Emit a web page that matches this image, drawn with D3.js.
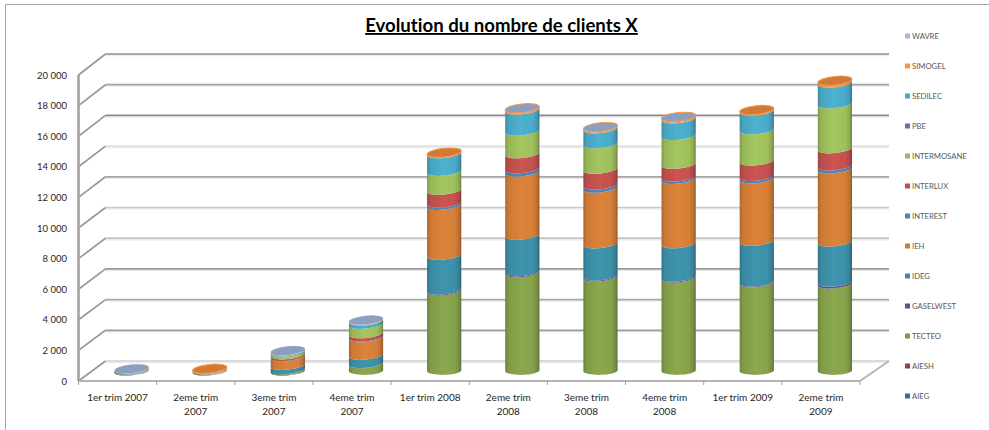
<!DOCTYPE html>
<html><head><meta charset="utf-8">
<script src="https://cdn.jsdelivr.net/npm/d3@7/dist/d3.min.js"></script>
<style>html,body{margin:0;padding:0;background:#fff}svg{display:block}text{font-family:Lato,"Open Sans",sans-serif;font-variant-ligatures:none}</style>
</head><body><svg id="c" width="989" height="430"></svg>
<script>
const categories = ["1er trim 2007","2eme trim 2007","3eme trim 2007","4eme trim 2007","1er trim 2008","2eme trim 2008","3eme trim 2008","4eme trim 2008","1er trim 2009","2eme trim 2009"];
const categoryLines = [["1er trim 2007"],["2eme trim","2007"],["3eme trim","2007"],["4eme trim","2007"],["1er trim 2008"],["2eme trim","2008"],["3eme trim","2008"],["4eme trim","2008"],["1er trim 2009"],["2eme trim","2009"]];
const seriesNames = ["AIEG","AIESH","TECTEO","GASELWEST","IDEG","IEH","INTEREST","INTERLUX","INTERMOSANE","PBE","SEDILEC","SIMOGEL","WAVRE"];
const seriesColors = ["#3f6aa3","#a03d3a","#86a34c","#6a4d8c","#3d90a9","#d67f38","#4f81bd","#c4524f","#9fc05c","#8064a2","#4bacc9","#f79646","#8d9fc0"];
const legendColors = ["#3f6aa3","#a03d3a","#7f9a48","#6a4d8c","#3a8ca5","#d07a35","#4f81bd","#c0504d","#9bbb59","#8064a2","#4bacc6","#f79646","#aabad7"];
const AIEG       = [0,0,5,0,0,0,0,0,0,0];
const AIESH      = [0,0,5,0,0,0,0,0,0,0];
const TECTEO     = [5,5,70,476,5220,6414,6134,6068,5762,5677];
const GASELWEST  = [0,0,10,20,60,60,60,60,50,120];
const IDEG       = [15,15,280,530,2270,2380,2110,2178,2650,2620];
const IEH        = [20,20,540,1150,3260,4130,3630,4200,4085,4780];
const INTEREST   = [0,0,30,40,150,215,200,150,155,176];
const INTERLUX   = [5,5,120,220,830,980,1040,830,1000,1130];
const INTERMOSANE= [10,10,180,613,1240,1480,1650,1890,2045,2935];
const PBE        = [0,0,0,0,0,0,0,0,0,0];
const SEDILEC    = [30,30,60,215,1150,1370,980,1080,1200,1350];
const SIMOGEL    = [5,65,15,40,70,80,70,70,85,150];
const WAVRE      = [50,0,15,26,0,40,40,60,0,0];
const seriesValues = [AIEG,AIESH,TECTEO,GASELWEST,IDEG,IEH,INTEREST,INTERLUX,INTERMOSANE,PBE,SEDILEC,SIMOGEL,WAVRE];
const yTicks = [0,2000,4000,6000,8000,10000,12000,14000,16000,18000,20000];
const gridColors = ["#cfcfcf","#9c9c9c","#a8a8a8","#9a9a9a","#c6c6c6","#c9c9c9","#a6a6a6","#e2e2e2","#8a8a8a","#a2a2a2","#8e8e8e"];
const titleText = "Evolution du nombre de clients X";

const svg = d3.select("#c");
const defs = svg.append("defs");
defs.append("filter").attr("id","soft").attr("x","-5%").attr("y","-5%").attr("width","110%").attr("height","110%")
  .append("feGaussianBlur").attr("stdDeviation",0.45);

const x = d3.scaleBand().domain(categories).range([78.5,860]);
const depthX = 27, centerShift = 14;
const yFront = d3.scaleLinear().domain([0,20000]).range([381,75]);
const yBack  = d3.scaleLinear().domain([0,20000]).range([361,54]);
const yMid   = d3.scaleLinear().domain([0,20000]).range([371,64.5]);
const rx = 17.2, ry = 4.3, tilt = -6;
const dxT = rx*Math.cos(tilt*Math.PI/180), dyT = rx*Math.sin(tilt*Math.PI/180);

// frame
svg.append("path").attr("d","M5.5,430V4.5H989").attr("fill","none").attr("stroke","#a6a6a6");

const plot = svg.append("g").attr("filter","url(#soft)");
const backLeft = x.range()[0]+depthX, backRight = 889;

// gridlines on the back wall + side diagonals
yTicks.forEach((t,i)=>{
  const ys = yBack(t);
  plot.append("line").attr("x1",backLeft).attr("x2",backRight).attr("y1",ys+1.5).attr("y2",ys+1.5).attr("stroke","#ececec").attr("stroke-width",1.5);
  plot.append("line").attr("x1",backLeft).attr("x2",backRight).attr("y1",ys).attr("y2",ys).attr("stroke",gridColors[i]).attr("stroke-width",1.7);
  plot.append("line").attr("x1",x.range()[0]).attr("x2",backLeft).attr("y1",yFront(t)).attr("y2",ys).attr("stroke","#9a9a9a").attr("stroke-width",1.8);
});
// floor
plot.append("line").attr("x1",x.range()[0]).attr("x2",x.range()[1]).attr("y1",yFront(0)).attr("y2",yFront(0)).attr("stroke","#b4b4b4").attr("stroke-width",1.8);
plot.append("line").attr("x1",x.range()[1]).attr("x2",backRight).attr("y1",yFront(0)).attr("y2",yBack(0)).attr("stroke","#b4b4b4").attr("stroke-width",1.8);
// y axis wall
plot.append("line").attr("x1",x.range()[0]).attr("x2",x.range()[0]).attr("y1",yFront(20000)).attr("y2",yFront(0)).attr("stroke","#a2a2a2").attr("stroke-width",2.6);
// x ticks
plot.selectAll(".xt").data(categories.concat(["end"])).enter().append("line")
  .attr("x1",(d,i)=>x.range()[0]+i*x.bandwidth()).attr("x2",(d,i)=>x.range()[0]+i*x.bandwidth())
  .attr("y1",yFront(0)).attr("y2",yFront(0)+4).attr("stroke","#a0a0a0");

// gradients
seriesColors.forEach((c,i)=>{
  const g = defs.append("linearGradient").attr("id","g"+i).attr("x1","0").attr("x2","1").attr("y1","0").attr("y2","0");
  const col = d3.color(c);
  [[0,0.8],[0.1,0.95],[0.45,1.03],[0.8,1],[0.93,0.88],[1,0.68]].forEach(([o,k])=>{
    g.append("stop").attr("offset",o).attr("stop-color",d3.rgb(col.r*k,col.g*k,col.b*k).formatHex());
  });
});

// cylinders
categories.forEach((cat,ci)=>{
  const cx = x(cat)+x.bandwidth()/2+centerShift;
  const g = plot.append("g");
  let cum = 0, topIdx = 0;
  const segs = [];
  d3.range(seriesNames.length).forEach(si=>{
    const v = seriesValues[si][ci];
    if(v>0){ segs.push({si,from:cum,to:cum+v}); cum+=v; topIdx=si; }
  });
  segs.forEach((s,k)=>{
    const y0 = yMid(s.from), y1 = yMid(s.to);
    const baseTilt = k===0 ? 0.25 : 1;   // the floor edge is nearly level
    const d = `M${cx-dxT},${y1-dyT} A${rx},${ry} ${tilt} 0 0 ${cx+dxT},${y1+dyT} L${cx+dxT},${y0+dyT*baseTilt} A${rx},${ry} ${tilt*baseTilt} 0 1 ${cx-dxT},${y0-dyT*baseTilt} Z`;
    g.append("path").attr("d",d).attr("fill",`url(#g${s.si})`);
  });
  const isWavreCap = topIdx===12;
  g.append("ellipse").attr("cx",cx).attr("cy",yMid(cum)).attr("rx",rx).attr("ry",ry)
    .attr("transform",`rotate(${tilt} ${cx} ${yMid(cum)})`)
    .attr("fill",isWavreCap ? seriesColors[12] : "#d07a35")
    .attr("stroke",(isWavreCap && ci>=5) || !isWavreCap ? "#f79646" : "none")
    .attr("stroke-width",1);
});

// y axis labels
const yAxis = d3.axisLeft(yFront).tickValues(yTicks).tickSize(0).tickPadding(0)
  .tickFormat(d=>d3.format(",")(d).replace(/,/g," "));
const ya = svg.append("g").attr("transform",`translate(67,0)`).call(yAxis);
ya.select(".domain").remove();
ya.selectAll("text").attr("font-size",9.5).attr("fill","#262626").attr("font-family","Lato").attr("x",0).attr("dy","0.33em");

// x labels
categories.forEach((cat,i)=>{
  const t = svg.append("text").attr("text-anchor","middle").attr("font-size",10).attr("fill","#262626")
    .attr("x",x(cat)+x.bandwidth()/2).attr("y",401);
  categoryLines[i].forEach((ln,k)=>t.append("tspan").attr("x",x(cat)+x.bandwidth()/2).attr("dy",k?14:0).text(ln));
});

// legend
const rowY = d3.scalePoint().domain(d3.range(seriesNames.length)).range([396,36]);
seriesNames.forEach((n,i)=>{
  svg.append("rect").attr("x",905).attr("y",rowY(i)-2.5).attr("width",5).attr("height",5).attr("fill",legendColors[i]);
  svg.append("text").attr("x",912).attr("y",rowY(i)+3).attr("font-size",7.7).attr("fill","#595959").text(n);
});

// title
svg.append("text").attr("x",501.5).attr("y",32).attr("text-anchor","middle").attr("font-size",18.6).attr("font-weight",700)
  .attr("fill","#000").attr("text-decoration","underline").text(titleText);
</script></body></html>
